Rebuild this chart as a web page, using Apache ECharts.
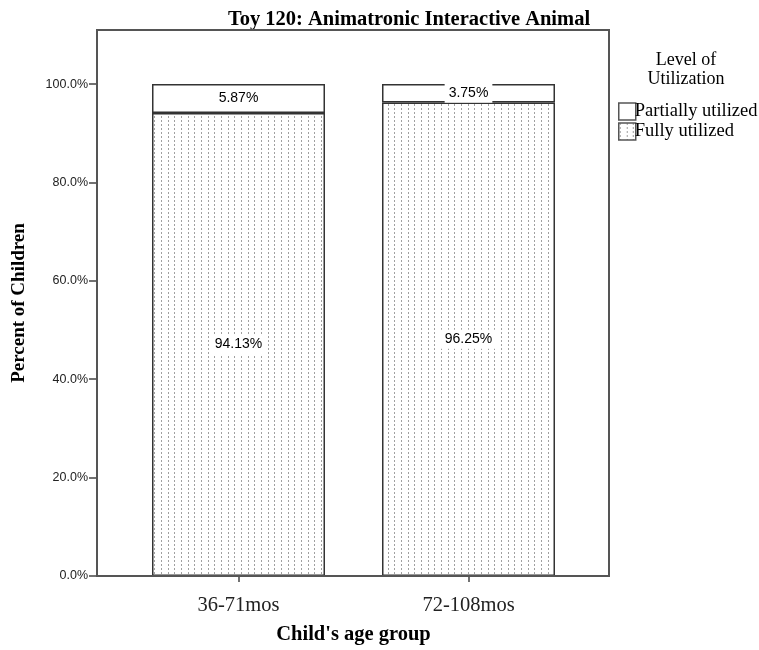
<!DOCTYPE html>
<html><head><meta charset="utf-8">
<script src="https://cdn.jsdelivr.net/npm/echarts@6/dist/echarts.min.js"></script>
<style>html,body{margin:0;padding:0;background:#fff}#c{width:759px;height:650px}</style>
</head><body><div id="c"></div>
<script>
const categories = ["36-71mos", "72-108mos"];
const fullyUtilized = [94.13, 96.25];
const partiallyUtilized = [5.87, 3.75];
const yTicks = [0, 20, 40, 60, 80, 100];
const chartTitle = "Toy 120: Animatronic Interactive Animal";
const legendTitle = "Level of\nUtilization";

function dotPattern() {
  const c = document.createElement('canvas');
  c.width = 20; c.height = 12;
  const g = c.getContext('2d');
  g.fillStyle = '#fff'; g.fillRect(0, 0, 20, 12);
  g.fillStyle = '#a0a0a0';
  [1, 8, 14].forEach(x => [0, 4, 8].forEach(y => g.fillRect(x, y, 1, 2)));
  return c;
}
const pat = { image: dotPattern(), repeat: 'repeat' };
const serif = '"Liberation Serif", "DejaVu Serif", serif';
const sans = '"Liberation Sans", Arial, sans-serif';

const chart = echarts.init(document.getElementById('c'), null, { renderer: 'canvas' });
const lbl = {
  show: true, position: 'inside', color: '#000', fontFamily: sans, fontSize: 14,
  backgroundColor: '#fff', padding: [3, 4, 2, 4],
  formatter: p => p.value.toFixed(2) + '%'
};
chart.setOption({
  animation: false,
  title: [
    { text: chartTitle, left: 404, top: 4, textAlign: 'center',
      textStyle: { fontFamily: serif, fontWeight: 'bold', fontSize: 20.5, color: '#000' } },
    { text: legendTitle, left: 681, top: 46, textAlign: 'center',
      textStyle: { fontFamily: serif, fontWeight: 'normal', fontSize: 18, color: '#000', lineHeight: 19 } }
  ],
  legend: {
    orient: 'vertical', left: 613, top: 97, itemWidth: 17, itemHeight: 17, itemGap: 1,
    icon: 'rect',
    textStyle: { fontFamily: serif, fontSize: 18.5, color: '#000', padding: [0, 0, 0, -6] },
    data: [
      { name: 'Partially utilized', itemStyle: { color: '#fff', borderColor: '#555', borderWidth: 1.5 } },
      { name: 'Fully utilized', itemStyle: { color: pat, borderColor: '#555', borderWidth: 1.5 } }
    ]
  },
  grid: { left: 123.5, right: 175.5, top: 30, bottom: 74 },
  xAxis: {
    type: 'category', data: categories,
    axisLine: { show: false },
    axisTick: { show: true, alignWithLabel: true, length: 6, lineStyle: { color: '#444', width: 1.5 } },
    axisLabel: { fontFamily: serif, fontSize: 20.5, color: '#222', margin: 19 },
    name: "Child's age group", nameLocation: 'middle', nameGap: 48,
    nameTextStyle: { fontFamily: serif, fontWeight: 'bold', fontSize: 20.5, color: '#000' }
  },
  yAxis: {
    type: 'value', min: 0, max: 111, interval: 20, offset: 26.5,
    splitLine: { show: false },
    axisLine: { show: false },
    axisTick: { show: true, length: 8, customValues: yTicks, lineStyle: { color: '#444', width: 1.5 } },
    axisLabel: { fontFamily: sans, fontSize: 12.5, color: '#222', margin: 9, customValues: yTicks,
      formatter: v => v.toFixed(1) + '%' },
    name: 'Percent of Children', nameLocation: 'middle', nameGap: 68,
    nameTextStyle: { fontFamily: serif, fontWeight: 'bold', fontSize: 19, color: '#000' }
  },
  graphic: [{
    type: 'rect', shape: { x: 97, y: 30, width: 512, height: 546 }, z: 100, silent: true,
    style: { fill: 'none', stroke: '#555', lineWidth: 2 }
  }],
  series: [
    { name: 'Fully utilized', type: 'bar', stack: 'u', barWidth: 173, data: fullyUtilized,
      itemStyle: { color: pat, borderColor: '#333', borderWidth: 1.5 }, label: lbl },
    { name: 'Partially utilized', type: 'bar', stack: 'u', barWidth: 173, data: partiallyUtilized,
      itemStyle: { color: '#fff', borderColor: '#333', borderWidth: 1.5 }, label: lbl }
  ]
});
</script></body></html>
